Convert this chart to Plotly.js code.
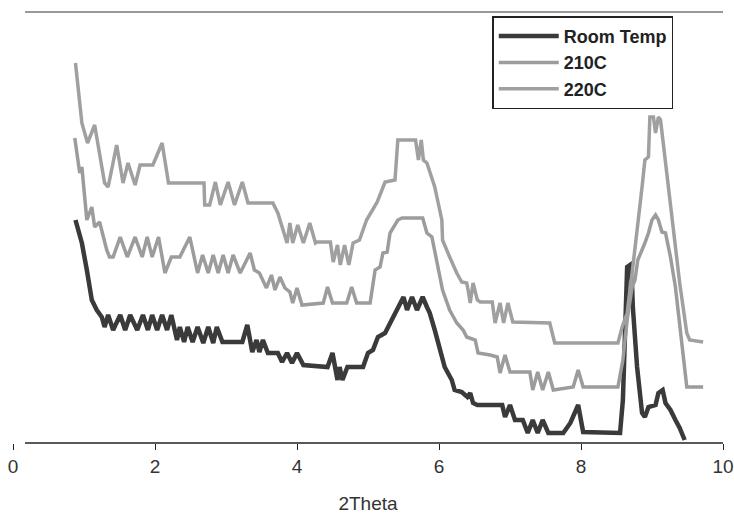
<!DOCTYPE html>
<html>
<head>
<meta charset="utf-8">
<script src="https://cdn.plot.ly/plotly-3.0.1.min.js"></script>
<style>
  html, body { margin: 0; padding: 0; background: #ffffff; }
  #chart { width: 734px; height: 514px; }
</style>
</head>
<body>
<div id="chart"></div>
<script>
// ---- Data (2Theta, intensity in arbitrary units) ----
var seriesNames = ["Room Temp", "210C", "220C"];

var roomTempX = [0.88,0.97,1.04,1.11,1.18,1.25,1.29,1.34,1.41,1.51,
  1.58,1.65,1.75,1.83,1.90,1.96,2.03,2.10,2.17,2.23,
  2.31,2.35,2.41,2.46,2.53,2.60,2.68,2.75,2.82,2.87,
  2.95,3.23,3.30,3.37,3.43,3.47,3.52,3.59,3.73,3.79,
  3.86,3.93,4.00,4.09,4.43,4.50,4.57,4.60,4.64,4.71,
  4.93,5.00,5.07,5.14,5.24,5.34,5.43,5.50,5.55,5.62,
  5.69,5.77,5.83,5.87,5.94,6.01,6.08,6.18,6.22,6.32,
  6.40,6.44,6.48,6.54,6.89,6.93,7.00,7.07,7.18,7.25,
  7.32,7.39,7.46,7.54,7.75,7.85,7.96,8.03,8.55,8.59,
  8.62,8.65,8.69,8.72,8.73,8.79,8.86,8.90,8.95,9.05,
  9.09,9.15,9.19,9.26,9.33,9.39,9.46];
var roomTempY = [225,202,175,145,135,128,118,130,115,130,
  115,130,115,130,115,130,115,130,115,130,
  105,118,103,118,103,118,102,118,102,118,
  103,103,120,93,105,93,105,92,92,83,
  92,82,92,80,78,92,65,78,65,78,
  78,92,95,108,112,125,138,148,135,148,
  135,148,138,132,115,98,78,65,55,53,
  48,52,42,40,40,28,40,25,25,12,
  25,12,25,12,12,22,40,13,12,45,
  112,178,180,158,138,78,32,28,38,40,
  52,55,42,35,25,17,5];

var t210X = [0.87,0.94,0.97,1.01,1.04,1.11,1.15,1.22,1.32,1.36,
  1.41,1.51,1.61,1.72,1.82,1.89,1.96,2.05,2.14,2.23,
  2.35,2.49,2.60,2.67,2.75,2.82,2.89,2.96,3.03,3.10,
  3.20,3.34,3.40,3.47,3.52,3.57,3.64,3.69,3.76,3.83,
  3.90,3.94,4.00,4.07,4.37,4.43,4.50,4.70,4.77,4.84,
  5.03,5.10,5.17,5.21,5.27,5.31,5.42,5.48,5.77,5.83,
  5.90,5.97,6.05,6.15,6.25,6.34,6.39,6.51,6.55,6.72,
  6.82,6.86,6.93,7.00,7.28,7.32,7.39,7.46,7.54,7.61,
  7.89,7.96,8.03,8.52,8.59,8.65,8.72,8.76,8.80,8.90,
  8.95,9.00,9.05,9.09,9.14,9.19,9.26,9.33,9.39,9.46,
  9.49,9.72];
var t210Y = [307,272,278,248,225,238,218,223,195,188,
  188,208,188,208,188,208,188,208,172,188,
  188,208,172,190,172,190,172,190,172,190,
  172,192,175,172,165,157,170,155,168,157,
  153,142,157,140,142,158,142,142,158,142,
  142,175,178,192,193,212,225,227,227,212,
  208,185,155,135,122,115,108,105,92,90,
  88,72,90,73,73,55,73,55,73,55,
  58,75,58,58,85,125,158,165,185,202,
  212,225,230,225,213,212,188,158,118,72,
  58,58];

var t220X = [0.88,0.97,1.05,1.15,1.29,1.34,1.46,1.55,1.62,1.72,
  1.79,1.97,2.10,2.19,2.69,2.70,2.77,2.85,2.92,3.03,
  3.12,3.23,3.31,3.66,3.73,3.79,3.86,3.90,3.94,4.01,
  4.09,4.18,4.26,4.28,4.47,4.51,4.57,4.61,4.67,4.73,
  4.79,4.88,4.98,5.13,5.24,5.38,5.42,5.67,5.71,5.75,
  5.78,5.83,5.94,6.04,6.05,6.15,6.25,6.32,6.39,6.41,
  6.44,6.48,6.54,6.58,6.75,6.79,6.86,6.91,6.97,7.04,
  7.56,7.63,8.52,8.58,8.65,8.72,8.79,8.86,8.90,8.95,
  8.97,9.02,9.05,9.09,9.12,9.22,9.30,9.39,9.49,9.53,
  9.72];
var t220Y = [382,322,302,320,262,258,300,262,282,260,
  280,280,302,262,262,240,240,263,240,263,
  240,263,242,242,232,218,202,222,202,220,
  202,222,202,203,203,183,200,180,200,180,
  202,205,225,243,263,265,305,305,285,305,
  285,282,258,225,205,188,172,163,162,155,
  142,162,145,143,143,122,142,122,142,123,
  122,102,102,118,132,172,212,258,285,288,
  328,328,312,328,325,262,212,162,112,105,
  103];

var xTickVals = [0, 2, 4, 6, 8, 10];
var xTickText = ["0", "2", "4", "6", "8", "10"];
var xTitle = "2Theta";

var traces = [
  { x: roomTempX, y: roomTempY, name: seriesNames[0], type: "scatter", mode: "lines",
    line: { color: "#3a3a3a", width: 4.5 } },
  { x: t210X, y: t210Y, name: seriesNames[1], type: "scatter", mode: "lines",
    line: { color: "#9c9c9c", width: 3.5 } },
  { x: t220X, y: t220Y, name: seriesNames[2], type: "scatter", mode: "lines",
    line: { color: "#a0a0a0", width: 3.5 } }
];

var layout = {
  width: 734, height: 514,
  margin: { l: 13, r: 11, t: 12, b: 71, pad: 0 },
  paper_bgcolor: "#ffffff", plot_bgcolor: "#ffffff",
  showlegend: true,
  xaxis: {
    range: [0, 10], tickvals: xTickVals, ticktext: xTickText,
    ticks: "outside", ticklen: 6, tickwidth: 1, tickcolor: "#222",
    showline: false, zeroline: false, showgrid: false, fixedrange: true,
    tickfont: { family: "Liberation Sans, Arial, sans-serif", size: 19, color: "#333" },
    title: { text: xTitle, standoff: 22,
      font: { family: "Liberation Sans, Arial, sans-serif", size: 19, color: "#333" } }
  },
  yaxis: { range: [2, 433], visible: false, showgrid: false, zeroline: false, fixedrange: true },
  shapes: [
    { type: "line", xref: "paper", yref: "paper", x0: 0.017, x1: 1.0, y0: 1, y1: 1,
      line: { color: "#333", width: 1 } },
    { type: "line", xref: "paper", yref: "paper", x0: 0.017, x1: 1.0, y0: 0, y1: 0,
      line: { color: "#222", width: 1.5 } }
  ],
  legend: {
    x: 0.675, y: 0.99, xanchor: "left", yanchor: "top",
    bgcolor: "#ffffff", bordercolor: "#222", borderwidth: 1.5,
    itemwidth: 60,
    font: { family: "Liberation Sans, Arial, sans-serif", size: 18, color: "#222", weight: "bold" }
  }
};

Plotly.newPlot("chart", traces, layout, { displayModeBar: false, staticPlot: true });
</script>
</body>
</html>
